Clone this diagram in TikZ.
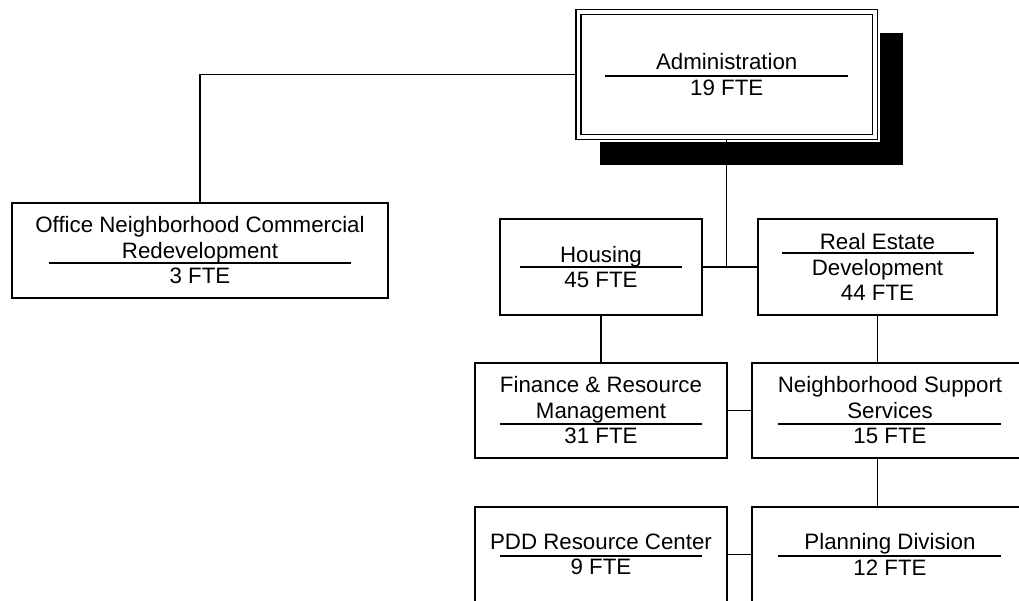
\documentclass[tikz,border=0pt]{standalone}
\usepackage{fontspec}
\setmainfont{Liberation Sans}
\usetikzlibrary{calc}

\begin{document}
\begin{tikzpicture}[x=1pt,y=-1pt,
	unit/.style={draw,line width=1.3pt,align=center,inner sep=0pt,font=\fontsize{22.3}{25.5}\selectfont},
	sep/.style={line width=1.2pt},
	link/.style={line width=1.3pt}]

	\useasboundingbox (0,0) rectangle (1019,601);
	\clip (0,0) rectangle (1019,601);

	\fill[black] (600,33) rectangle (903,165);
	\fill[white] (573,6) rectangle (880,142);
	\node[unit,double,double distance=3.5pt,fill=white,outer sep=3pt,minimum width=296.5pt,minimum height=125pt] (admin) at (726.75,74.5) {Administration\\19 FTE};
		\draw[sep] ($(admin.center)+(-121.5,1.5)$) -- ++(243,0);

	\node[unit,minimum width=376pt,minimum height=95pt] (office) at (200,250.5) {Office Neighborhood Commercial\\Redevelopment\\3 FTE};
		\draw[sep] ($(office.center)+(-151,12.5)$) -- ++(302,0);

	\node[unit,minimum width=202pt,minimum height=96pt] (housing) at (601,267) {Housing\\45 FTE};
		\draw[sep] ($(housing.center)+(-81,0)$) -- ++(162,0);

	\node[unit,minimum width=239pt,minimum height=96pt] (realestate) at (877.5,267) {Real Estate\\Development\\44 FTE};
		\draw[sep] ($(realestate.center)+(-96,-14)$) -- ++(192,0);

	\node[unit,minimum width=252pt,minimum height=95pt] (finance) at (601,410.5) {Finance \& Resource\\Management\\31 FTE};
		\draw[sep] ($(finance.center)+(-101,13.5)$) -- ++(202,0);

	\node[unit,minimum width=276pt,minimum height=95pt] (nss) at (890,410.5) {Neighborhood Support\\Services\\15 FTE};
		\draw[sep] ($(nss.center)+(-112,13.5)$) -- ++(223,0);

	\node[unit,minimum width=252pt,minimum height=95pt] (pdd) at (601,554.5) {PDD Resource Center\\9 FTE};
		\draw[sep] ($(pdd.center)+(-101,1.5)$) -- ++(202,0);

	\node[unit,minimum width=276pt,minimum height=95pt] (planning) at (890,554.5) {Planning Division\\12 FTE};
		\draw[sep] ($(planning.center)+(-112,1.5)$) -- ++(223,0);

	\draw[link] (admin.west) -| (office.north);
	\draw[link] (admin.south) -- (admin.south |- housing.east);
	\draw[link] (housing.east) -- (realestate.west);
	\draw[link] (housing.south) -- (finance.north);
	\draw[link] (realestate.south) -- (realestate.south |- nss.north);
	\draw[link] (finance.east) -- (nss.west);
	\draw[link] (realestate.south |- nss.south) -- (realestate.south |- planning.north);
	\draw[link] (pdd.east) -- (planning.west);

\end{tikzpicture}
\end{document}
